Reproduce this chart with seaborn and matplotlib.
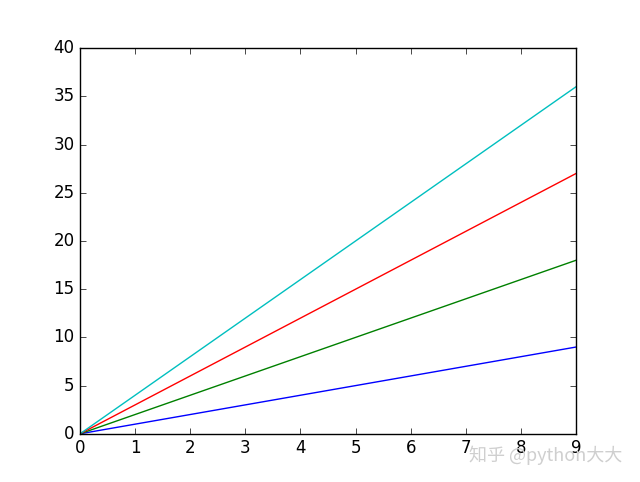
import matplotlib

matplotlib.use("Agg")
import matplotlib.pyplot as plt
import pandas as pd
import seaborn as sns

plt.style.use("classic")

x = [0, 1, 2, 3, 4, 5, 6, 7, 8, 9]
y_one = [0, 1, 2, 3, 4, 5, 6, 7, 8, 9]
y_two = [0, 2, 4, 6, 8, 10, 12, 14, 16, 18]
y_three = [0, 3, 6, 9, 12, 15, 18, 21, 24, 27]
y_four = [0, 4, 8, 12, 16, 20, 24, 28, 32, 36]
series_colors = ["b", "g", "r", "c"]

frame = pd.DataFrame(
    {"x": x * 4, "y": y_one + y_two + y_three + y_four,
     "series": ["1"] * 10 + ["2"] * 10 + ["3"] * 10 + ["4"] * 10}
)

fig = plt.figure(figsize=(6.4, 4.82), dpi=100, facecolor="white")
ax = fig.add_subplot(111)
sns.lineplot(data=frame, x="x", y="y", hue="series", palette=series_colors,
             legend=False, ax=ax, linewidth=1)
ax.set_xlabel("")
ax.set_ylabel("")
ax.set_xlim(0, 9)
ax.set_ylim(0, 40)
ax.set_xticks(range(0, 10))
ax.set_yticks(range(0, 41, 5))

# zhihu watermark sits on top of the last x tick labels, as in the source image
fig.text(0.972, 0.055, "知乎 @python大大", ha="right", va="center", fontsize=13,
         color="#cfcfcf", family=["Noto Sans CJK SC", "DejaVu Sans"])

fig.savefig("out.png", dpi=100, facecolor="white")
